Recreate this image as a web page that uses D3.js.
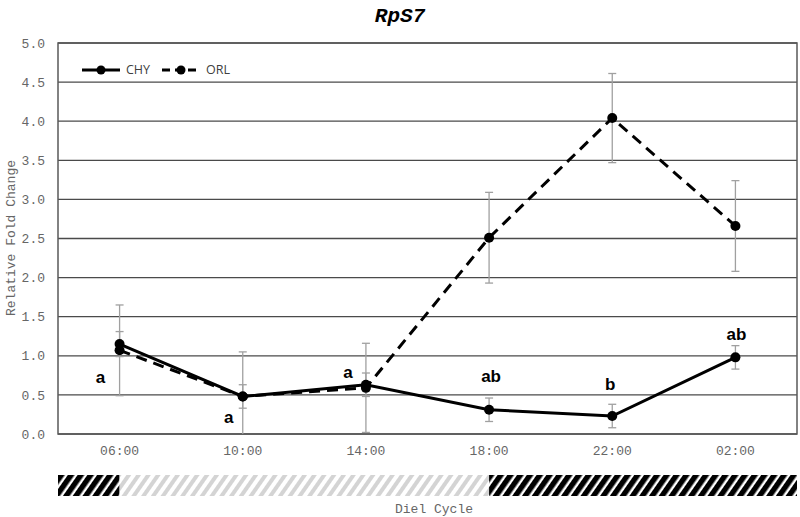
<!DOCTYPE html>
<html>
<head>
<meta charset="utf-8">
<script src="https://cdn.jsdelivr.net/npm/d3@7"></script>
<style>
  body { margin: 0; background: #fff; }
  svg { display: block; }
</style>
</head>
<body>
<svg id="canvas"></svg>
<script>
// values
const times = ["06:00", "10:00", "14:00", "18:00", "22:00", "02:00"];
const chy = [1.15, 0.48, 0.63, 0.31, 0.23, 0.98];
const chyErr = [0.16, 0.15, 0.15, 0.15, 0.15, 0.15];
const orl = [1.07, 0.48, 0.59, 2.51, 4.04, 2.66];
const orlErr = [0.58, 0.57, 0.57, 0.58, 0.57, 0.58];
const letters = ["a", "a", "a", "ab", "b", "ab"];
const yTicks = [0, 0.5, 1, 1.5, 2, 2.5, 3, 3.5, 4, 4.5, 5];
// light/dark phases: [from, to] as positions on the time axis (0 = left edge)
const dielPhases = [
    { from: 0, to: 0.5, dark: true },
    { from: 0.5, to: 3.5, dark: false },
    { from: 3.5, to: 6, dark: true }
];

const width = 800;
const height = 517;
const plot = { left: 58, right: 797, top: 43, bottom: 434 };
// where each significance letter sits relative to its CHY point
const letterOffsets = [[-19, 33], [-14, 21], [-18, -13], [2, -34], [-2, -32], [1, -23]];

const svg = d3.select("#canvas")
    .attr("width", width)
    .attr("height", height);

const defs = svg.append("defs");
defs.append("clipPath").attr("id", "plotClip")
    .append("rect")
    .attr("x", plot.left).attr("y", plot.top)
    .attr("width", plot.right - plot.left).attr("height", plot.bottom - plot.top);

function hatch(id, color, bar) {
    const p = defs.append("pattern")
        .attr("id", id)
        .attr("patternUnits", "userSpaceOnUse")
        .attr("width", 8).attr("height", 8)
        .attr("patternTransform", "rotate(35)");
    p.append("rect").attr("width", 8).attr("height", 8).attr("fill", "#fff");
    p.append("rect").attr("width", bar).attr("height", 8).attr("fill", color);
}
hatch("darkHatch", "#000", 5.5);
hatch("lightHatch", "#d4d4d4", 4);

const x = d3.scaleBand().domain(times).range([plot.left, plot.right]).padding(0);
const cx = (t) => x(t) + x.bandwidth() / 2;
const y = d3.scaleLinear().domain([0, 5]).range([plot.bottom, plot.top]);
const phaseX = d3.scaleLinear().domain([0, times.length]).range([plot.left, plot.right]);

const mono = "'Liberation Mono', 'Courier New', monospace";

// title
svg.append("text")
    .attr("x", 400).attr("y", 22)
    .attr("text-anchor", "middle")
    .style("font-family", mono)
    .style("font-size", "21px")
    .style("font-weight", "bold")
    .style("font-style", "italic")
    .attr("fill", "#000")
    .text("RpS7");

// gridlines
svg.append("g")
    .selectAll("line")
    .data(yTicks)
    .join("line")
    .attr("x1", plot.left).attr("x2", plot.right)
    .attr("y1", (d) => y(d)).attr("y2", (d) => y(d))
    .attr("stroke", "#4a4a4a")
    .attr("stroke-width", 1.3);

// plot border
svg.append("rect")
    .attr("x", plot.left).attr("y", plot.top)
    .attr("width", plot.right - plot.left).attr("height", plot.bottom - plot.top)
    .attr("fill", "none")
    .attr("stroke", "#595959")
    .attr("stroke-width", 1.5);

// y axis labels
const axisY = svg.append("g")
    .attr("transform", `translate(${plot.left}, 0)`)
    .call(d3.axisLeft(y).tickValues(yTicks).tickFormat(d3.format(".1f")).tickSize(0).tickPadding(13));
axisY.select(".domain").remove();
axisY.selectAll("text")
    .style("font-family", mono)
    .style("font-size", "13px")
    .attr("fill", "#666");

// x axis labels
const axisX = svg.append("g")
    .attr("transform", `translate(0, ${plot.bottom})`)
    .call(d3.axisBottom(x).tickSize(0).tickPadding(12));
axisX.select(".domain").remove();
axisX.selectAll("text")
    .style("font-family", mono)
    .style("font-size", "13px")
    .attr("fill", "#666");

svg.append("text")
    .attr("transform", "translate(15, 238) rotate(-90)")
    .attr("text-anchor", "middle")
    .style("font-family", mono)
    .style("font-size", "13px")
    .attr("fill", "#666")
    .text("Relative Fold Change");

// error bars
const series = [
    { name: "ORL", values: orl, err: orlErr, dash: "11,7" },
    { name: "CHY", values: chy, err: chyErr, dash: null }
];
const errG = svg.append("g").attr("clip-path", "url(#plotClip)");
series.forEach((s) => {
    s.values.forEach((v, i) => {
        const xc = cx(times[i]);
        const y0 = y(v - s.err[i]);
        const y1 = y(v + s.err[i]);
        errG.append("line")
            .attr("x1", xc).attr("x2", xc).attr("y1", y0).attr("y2", y1)
            .attr("stroke", "#a0a0a0").attr("stroke-width", 1.3);
        [y0, y1].forEach((yy) => {
            errG.append("line")
                .attr("x1", xc - 4).attr("x2", xc + 4).attr("y1", yy).attr("y2", yy)
                .attr("stroke", "#a0a0a0").attr("stroke-width", 1.3);
        });
    });
});

// lines and markers
const lineGen = d3.line().x((d, i) => cx(times[i])).y((d) => y(d));
series.forEach((s) => {
    svg.append("path")
        .attr("d", lineGen(s.values))
        .attr("fill", "none")
        .attr("stroke", "#000")
        .attr("stroke-width", 3)
        .attr("stroke-dasharray", s.dash);
    svg.append("g")
        .selectAll("circle")
        .data(s.values)
        .join("circle")
        .attr("cx", (d, i) => cx(times[i]))
        .attr("cy", (d) => y(d))
        .attr("r", 5)
        .attr("fill", "#000");
});

// significance letters
svg.append("g")
    .selectAll("text")
    .data(letters)
    .join("text")
    .attr("x", (d, i) => cx(times[i]) + letterOffsets[i][0])
    .attr("y", (d, i) => y(chy[i]) + letterOffsets[i][1])
    .attr("dy", "0.35em")
    .attr("text-anchor", "middle")
    .style("font-family", "'Liberation Sans', Arial, sans-serif")
    .style("font-size", "17px")
    .style("font-weight", "bold")
    .attr("fill", "#000")
    .text((d) => d);

// legend
const legend = svg.append("g").attr("transform", "translate(82, 70)");
[{ name: "CHY", dash: null, x: 0 }, { name: "ORL", dash: "8,5", x: 80 }].forEach((l) => {
    const g = legend.append("g").attr("transform", `translate(${l.x}, 0)`);
    g.append("line")
        .attr("x1", 0).attr("x2", 38).attr("y1", 0).attr("y2", 0)
        .attr("stroke", "#000").attr("stroke-width", 3)
        .attr("stroke-dasharray", l.dash);
    g.append("circle").attr("cx", 19).attr("cy", 0).attr("r", 4.5).attr("fill", "#000");
    g.append("text")
        .attr("x", 44).attr("y", 0).attr("dy", "0.35em")
        .style("font-family", "'Open Sans', 'Liberation Sans', sans-serif")
        .style("font-size", "12.5px")
        .attr("fill", "#404040")
        .text(l.name);
});

// diel cycle bar
svg.append("g")
    .selectAll("rect")
    .data(dielPhases)
    .join("rect")
    .attr("x", (d) => phaseX(d.from))
    .attr("width", (d) => phaseX(d.to) - phaseX(d.from))
    .attr("y", 475)
    .attr("height", 21)
    .attr("fill", (d) => d.dark ? "url(#darkHatch)" : "url(#lightHatch)");

svg.append("text")
    .attr("x", 434).attr("y", 513)
    .attr("text-anchor", "middle")
    .style("font-family", mono)
    .style("font-size", "13px")
    .attr("fill", "#666")
    .text("Diel Cycle");
</script>
</body>
</html>
